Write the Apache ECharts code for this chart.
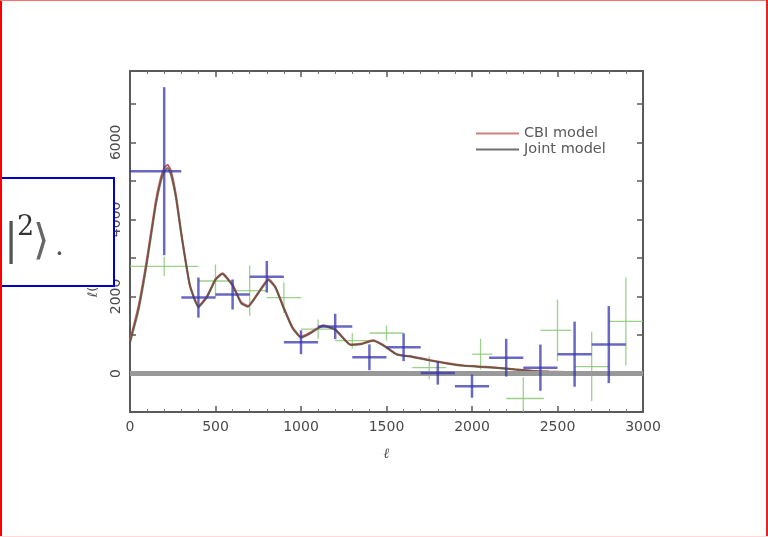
<!DOCTYPE html>
<html><head><meta charset="utf-8">
<script src="https://cdn.jsdelivr.net/npm/echarts@6/dist/echarts.min.js"></script>
<style>html,body{margin:0;padding:0;background:#fff;}#c{width:768px;height:537px;}</style>
</head><body><div id="c"></div>
<script>
// Model curves (multipole l, power)
const modelL     = [0, 50, 100, 150, 180, 200, 220, 240, 270, 300, 350, 400, 450, 500, 540, 600, 650, 690, 750, 810, 850, 900, 950, 1000, 1050, 1130, 1200, 1290, 1350, 1420, 1480, 1560, 1650, 1750, 1850, 1950, 2050, 2150, 2250, 2350, 2450, 2550, 2700, 2850, 3000];
const cbiModel   = [850, 1750, 3000, 4450, 5080, 5330, 5420, 5250, 4600, 3650, 2300, 1750, 2000, 2450, 2600, 2300, 1850, 1750, 2100, 2450, 2250, 1700, 1200, 950, 1050, 1250, 1150, 750, 770, 860, 740, 500, 440, 350, 270, 210, 180, 150, 110, 70, 50, 40, 30, 20, 10];
const jointModel = [800, 1650, 2900, 4350, 4980, 5230, 5330, 5150, 4520, 3600, 2280, 1720, 1980, 2430, 2580, 2280, 1820, 1730, 2080, 2420, 2230, 1680, 1180, 930, 1030, 1230, 1130, 740, 760, 850, 730, 490, 430, 340, 260, 200, 170, 140, 100, 60, 45, 35, 25, 15, 5];

// CBI band powers (blue)
const cbiL   = [200, 400, 600, 800, 1000, 1200, 1400, 1600, 1800, 2000, 2200, 2400, 2600, 2800];
const cbiLo  = [0, 300, 500, 700, 900, 1100, 1300, 1500, 1700, 1900, 2100, 2300, 2500, 2700];
const cbiHi  = [300, 500, 700, 900, 1100, 1300, 1500, 1700, 1900, 2100, 2300, 2500, 2700, 2900];
const cbiVal = [5250, 1970, 2050, 2510, 810, 1220, 420, 680, 10, -330, 410, 150, 500, 750];
const cbiErr = [2180, 520, 390, 410, 310, 330, 335, 360, 300, 300, 490, 600, 845, 1000];

// Other data set (green)
const grnL   = [200, 500, 700, 900, 1100, 1300, 1500, 1750, 2050, 2300, 2500, 2700, 2900];
const grnLo  = [0, 400, 600, 800, 1000, 1200, 1400, 1650, 2000, 2200, 2400, 2600, 2800];
const grnHi  = [400, 600, 800, 1000, 1200, 1400, 1600, 1850, 2120, 2420, 2580, 2800, 3000];
const grnVal = [2780, 2400, 2150, 1970, 1150, 850, 1050, 150, 500, -650, 1120, 180, 1350];
const grnErr = [250, 430, 650, 400, 250, 200, 200, 300, 400, 550, 800, 900, 1150];

// Axis ticks / labels
const yLabelVals = [0, 2000, 4000, 6000];
const yTickVals = [0, 1000, 2000, 3000, 4000, 5000, 6000, 7000];

const zip = (a, b) => a.map((v, i) => [v, b[i]]);

function errSeries(name, L, Lo, Hi, V, E, color, width, z) {
  return {
    name, type: 'custom', z, clip: true, silent: true,
    data: L.map((l, i) => [l, V[i], Lo[i], Hi[i], E[i]]),
    renderItem: function (params, api) {
      const l = api.value(0), v = api.value(1), lo = api.value(2), hi = api.value(3), e = api.value(4);
      const a = api.coord([lo, v]), b = api.coord([hi, v]);
      const c = api.coord([l, v - e]), d = api.coord([l, v + e]);
      const style = { stroke: color, lineWidth: width, fill: null };
      return { type: 'group', children: [
        { type: 'line', shape: { x1: a[0], y1: a[1], x2: b[0], y2: b[1] }, style },
        { type: 'line', shape: { x1: c[0], y1: c[1], x2: d[0], y2: d[1] }, style }
      ]};
    }
  };
}

const chart = echarts.init(document.getElementById('c'), null, { renderer: 'canvas' });
const axisFont = { fontFamily: 'DejaVu Sans', fontSize: 14, color: '#4a4a4a', formatter: v => String(v) };
const lineStyleAxis = { color: '#5a5a5a', width: 2 };

chart.setOption({
  animation: false,
  backgroundColor: '#fff',
  grid: { left: 130, right: 125, top: 71, bottom: 125, containLabel: false },
  legend: {
    left: 471, top: 121, orient: 'vertical', itemGap: 1,
    itemWidth: 43, itemHeight: 2, icon: 'rect',
    textStyle: { fontFamily: 'DejaVu Sans', fontSize: 14.5, color: '#5a5a5a', lineHeight: 14 },
    data: ['CBI model', 'Joint model']
  },
  xAxis: [
    { type: 'value', min: 0, max: 3000, interval: 500, position: 'bottom',
      name: 'ℓ', nameLocation: 'middle', nameGap: 35,
      nameTextStyle: { fontFamily: 'DejaVu Serif', fontSize: 14, fontStyle: 'italic', color: '#4a4a4a' },
      axisLine: { onZero: false, lineStyle: lineStyleAxis },
      axisTick: { inside: true, length: 6, lineStyle: { color: '#5a5a5a', width: 1.5 } },
      minorTick: { show: true, splitNumber: 5, length: 3, lineStyle: { color: '#777', width: 1 } },
      axisLabel: Object.assign({ margin: 8 }, axisFont),
      splitLine: { show: false } },
    { type: 'value', min: 0, max: 3000, interval: 500, position: 'top',
      axisLine: { onZero: false, lineStyle: lineStyleAxis },
      axisTick: { inside: true, length: 6, lineStyle: { color: '#5a5a5a', width: 1.5 } },
      minorTick: { show: true, splitNumber: 5, length: 3, lineStyle: { color: '#777', width: 1 } },
      axisLabel: { show: false }, splitLine: { show: false } }
  ],
  yAxis: [
    { type: 'value', min: -1000, max: 7850, position: 'left',
      name: 'ℓ(ℓ+1)Cℓ/2π (μK²)', nameLocation: 'middle', nameGap: 30, nameRotate: 90,
      nameTextStyle: { fontFamily: 'DejaVu Sans', fontSize: 13, color: '#4a4a4a' },
      axisLine: { onZero: false, lineStyle: lineStyleAxis },
      axisTick: { inside: true, length: 6, customValues: yTickVals, lineStyle: { color: '#5a5a5a', width: 1.5 } },
      axisLabel: Object.assign({ rotate: 90, margin: 7, customValues: yLabelVals }, axisFont),
      splitLine: { show: false } },
    { type: 'value', min: -1000, max: 7850, position: 'right',
      axisLine: { onZero: false, lineStyle: lineStyleAxis },
      axisTick: { inside: true, length: 6, customValues: yTickVals, lineStyle: { color: '#5a5a5a', width: 1.5 } },
      axisLabel: { show: false }, splitLine: { show: false } }
  ],
  series: [
    Object.assign(errSeries('Green data', grnL, grnLo, grnHi, grnVal, grnErr, 'rgba(140,200,120,0.85)', 1.3, 2), {
      markLine: { silent: true, symbol: 'none', label: { show: false },
        lineStyle: { color: '#999', width: 5, type: 'solid' }, data: [{ yAxis: 0 }] }
    }),
    { name: 'CBI model', type: 'line', smooth: 0.15, showSymbol: false, z: 3,
      data: zip(modelL, cbiModel), color: '#d08080',
      lineStyle: { color: '#c06060', width: 2 } },
    { name: 'Joint model', type: 'line', smooth: 0.15, showSymbol: false, z: 4,
      data: zip(modelL, jointModel), color: '#707070',
      lineStyle: { color: 'rgba(90,80,60,0.8)', width: 2 } },
    errSeries('CBI data', cbiL, cbiLo, cbiHi, cbiVal, cbiErr, 'rgba(55,55,175,0.75)', 2.5, 5)
  ],
  graphic: [
    { type: 'rect', z: 100, shape: { x: -2, y: 178, width: 116, height: 108 },
      style: { fill: '#fff', stroke: '#0000cc', lineWidth: 2 } },
    { type: 'text', z: 101, x: 4, y: 222, style: { text: '|', font: '42px DejaVu Serif', fill: '#555' } },
    { type: 'text', z: 101, x: 17, y: 214, style: { text: '2', font: '27px DejaVu Serif', fill: '#333' } },
    { type: 'text', z: 101, x: 33, y: 222, style: { text: '⟩', font: '42px DejaVu Serif', fill: '#666' } },
    { type: 'text', z: 101, x: 55, y: 234, style: { text: '.', font: '28px DejaVu Serif', fill: '#555' } },
    { type: 'rect', z: 102, shape: { x: 0, y: 0, width: 2, height: 537 }, style: { fill: '#ff0000' } },
    { type: 'rect', z: 102, shape: { x: 0, y: 0, width: 768, height: 1 }, style: { fill: '#ff7070' } },
    { type: 'rect', z: 102, shape: { x: 766, y: 0, width: 2, height: 537 }, style: { fill: '#dd2828' } },
    { type: 'rect', z: 102, shape: { x: 0, y: 536, width: 768, height: 1 }, style: { fill: '#ffd8d8' } }
  ]
});
</script>
</body></html>
